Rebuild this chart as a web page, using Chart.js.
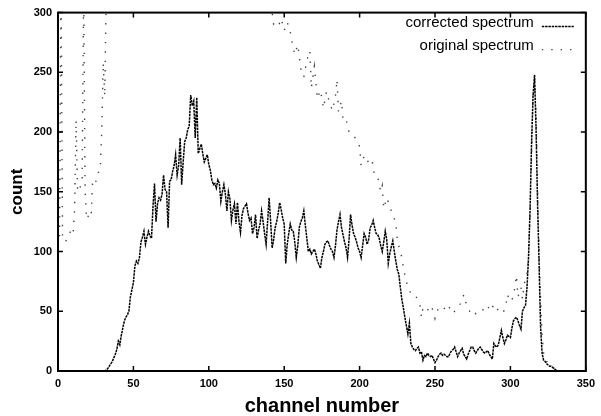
<!DOCTYPE html>
<html>
<head>
<meta charset="utf-8">
<script src="https://cdn.jsdelivr.net/npm/chart.js@4"></script>
<style>
  html, body { margin: 0; padding: 0; background: #fff; }
  #wrap { width: 601px; height: 416px; }
</style>
</head>
<body>
<div id="wrap"><canvas id="spec"></canvas></div>
<script>
// corrected spectrum (channel, count)
const corrChannels = [0,
  30,31,32,33,34,35,36,37,38,39,40,41,42,43,44,45,46,47,48,49,
  50,51,52,53,54,55,56,57,58,59,60,61,62,63,64,65,66,67,68,69,
  70,71,72,73,74,75,76,77,78,79,80,81,82,83,84,85,86,87,88,89,
  90,91,92,93,94,95,96,97,98,99,100,101,102,103,104,105,106,107,108,109,
  110,111,112,113,114,115,116,117,118,119,120,121,122,123,124,125,126,127,128,129,
  130,131,132,133,134,135,136,137,138,139,140,141,142,143,144,145,146,147,148,149,
  150,151,152,153,154,155,156,157,158,159,160,161,162,163,164,165,166,167,168,169,
  170,171,172,173,174,175,176,177,178,179,180,181,182,183,184,185,186,187,188,189,
  190,191,192,193,194,195,196,197,198,199,200,201,202,203,204,205,206,207,208,209,
  210,211,212,213,214,215,216,217,218,219,220,221,222,223,224,225,226,227,228,229,
  230,231,232,233,234,235,236,237,238,239,240,241,242,243,244,245,246,247,248,249,
  250,251,252,253,254,255,256,257,258,259,260,261,262,263,264,265,266,267,268,269,
  270,271,272,273,274,275,276,277,278,279,280,281,282,283,284,285,286,287,288,289,
  290,291,292,293,294,295,296,297,298,299,300,301,302,303,304,305,306,307,308,309,
  310,311,312,313,314,315,316,317,318,319,320,321,322,323,324,325,326,327,328,329,
  330,331,335];
const corrCounts = [0,
  0,0,1,2,4,6,8,11,14,18,25,22,30,36,42,45,47,50,62,68,
  74,88,92,90,95,108,112,117,106,112,117,113,111,138,157,125,140,145,143,148,
  164,152,150,120,159,160,167,172,181,164,172,195,156,175,192,195,202,205,231,222,
  226,195,229,182,186,190,182,175,178,181,173,168,160,156,157,153,160,157,142,150,
  156,148,134,150,144,126,135,140,123,141,125,116,130,136,138,140,132,126,128,115,
  120,131,111,118,123,134,125,115,106,125,145,125,103,110,120,125,132,141,135,128,
  123,90,106,115,123,118,117,108,95,105,120,125,128,134,122,111,100,102,98,100,
  102,98,92,89,86,95,100,106,108,109,105,102,100,95,105,118,125,131,120,114,
  108,103,95,110,131,122,115,112,108,103,100,95,105,115,112,106,110,120,122,126,
  120,115,114,111,105,100,108,117,110,90,98,104,109,100,92,85,81,70,60,53,
  45,38,31,40,23,20,18,17,19,20,15,16,9,13,12,15,13,12,13,10,
  7,9,12,14,15,13,14,13,12,12,15,17,18,20,16,12,15,17,19,14,
  12,10,14,17,20,20,17,15,17,19,20,18,16,15,16,17,14,12,10,23,
  21,20,22,28,34,28,23,26,30,29,28,36,42,44,45,42,38,35,50,53,
  55,70,95,134,190,230,248,203,140,90,37,15,9,8,6,5,4,4,3,2,
  1,0,0];

// original spectrum (channel, count) - values above 300 run off the top
const origChannels = [0,1,2,3,5,7,9,10,11,12,13,14,16,17,18,19,21,22,23,25,26,28,29,30,31,32,
  35,40,50,60,80,90,100,110,120,130,138,
  142,143,146,148,150,152,154,156,157,159,161,163,165,167,168,170,172,174,176,178,
  180,182,184,185,186,188,189,191,193,196,198,200,201,203,205,208,210,212,214,215,
  216,218,220,222,224,225,227,228,229,231,232,234,236,237,239,240,241,242,244,246,
  247,249,250,252,254,256,258,260,262,264,266,268,269,271,273,275,277,279,281,283,
  285,287,289,291,293,295,297,298,300,302,304,305,307,308,309,311,312,313,314,315,
  316,317,318,319,320,321,322,324,326,328,330,332];
const origCounts = [105,110,330,112,108,114,118,115,135,210,150,152,158,320,150,127,132,130,160,158,165,168,200,258,230,320,
  360,450,520,600,700,720,650,560,480,400,340,
  300,290,288,295,285,292,284,270,265,273,253,246,260,268,237,255,228,235,220,234,
  225,218,230,244,217,226,210,211,200,198,192,188,172,180,175,178,163,162,150,155,
  136,145,138,130,125,109,100,95,86,75,70,65,65,63,59,55,45,53,50,52,
  55,50,44,52,50,52,56,52,48,52,55,58,64,55,50,52,48,50,52,50,
  54,50,56,52,50,48,55,64,58,62,80,62,70,60,72,82,95,130,180,230,
  245,215,150,100,60,30,15,8,5,3,1,0];

const xMin = 0, xMax = 350, xStep = 50;
const yMin = 0, yMax = 300, yStep = 50;

const toXY = (xs, ys) => xs.map((x, i) => ({ x: x, y: ys[i] }));

// gnuplot style frame, inward ticks on all sides and a legend in the top right corner
const framePlugin = {
  id: "frame",
  afterDatasetsDraw(chart) {
    const ctx = chart.ctx;
    const a = chart.chartArea;
    const xs = chart.scales.x, ys = chart.scales.y;
    ctx.save();
    ctx.strokeStyle = "#000";
    ctx.lineWidth = 2;
    ctx.strokeRect(a.left, a.top, a.right - a.left, a.bottom - a.top);
    ctx.lineWidth = 1.5;
    ctx.beginPath();
    xs.ticks.forEach((t) => {
      const px = xs.getPixelForValue(t.value);
      ctx.moveTo(px, a.bottom); ctx.lineTo(px, a.bottom - 5);
      ctx.moveTo(px, a.top); ctx.lineTo(px, a.top + 5);
    });
    ys.ticks.forEach((t) => {
      const py = ys.getPixelForValue(t.value);
      ctx.moveTo(a.left, py); ctx.lineTo(a.left + 5, py);
      ctx.moveTo(a.right, py); ctx.lineTo(a.right - 5, py);
    });
    ctx.stroke();

    // legend
    ctx.font = "15px 'Liberation Sans', Arial, sans-serif";
    ctx.textAlign = "right";
    ctx.textBaseline = "middle";
    ctx.fillStyle = "#000";
    chart.data.datasets.forEach((ds, i) => {
      const y = a.top + 10 + i * 23;
      ctx.fillText(ds.label, a.right - 52, y);
      ctx.strokeStyle = ds.borderColor;
      ctx.lineWidth = ds.borderWidth;
      ctx.setLineDash(ds.borderDash || []);
      ctx.beginPath();
      ctx.moveTo(a.right - 44, y + 4);
      ctx.lineTo(a.right - 12, y + 4);
      ctx.stroke();
    });
    ctx.restore();
  }
};

new Chart(document.getElementById("spec"), {
  type: "line",
  data: {
    datasets: [
      {
        label: "corrected spectrum",
        data: toXY(corrChannels, corrCounts),
        borderColor: "#000",
        borderWidth: 1.5,
        borderDash: [2.5, 0.8],
        pointRadius: 0,
        tension: 0
      },
      {
        label: "original spectrum",
        data: toXY(origChannels, origCounts),
        borderColor: "#444",
        borderWidth: 1.4,
        borderDash: [1.4, 8],
        pointRadius: 0,
        tension: 0
      }
    ]
  },
  options: {
    responsive: true,
    maintainAspectRatio: false,
    animation: false,
    layout: { padding: { top: 10, right: 9, left: 0, bottom: 0 } },
    plugins: { legend: { display: false }, tooltip: { enabled: false } },
    scales: {
      x: {
        type: "linear",
        min: xMin, max: xMax,
        grid: { display: false, drawTicks: false },
        border: { display: false },
        ticks: {
          stepSize: xStep,
          padding: 6,
          color: "#000",
          font: { family: "'Liberation Sans', Arial, sans-serif", size: 11, weight: "bold" }
        },
        title: {
          display: true,
          text: "channel number",
          color: "#000",
          padding: { top: 0, bottom: 0 },
          font: { family: "'Liberation Sans', Arial, sans-serif", size: 20, weight: "bold", lineHeight: 1 }
        },
        afterFit: (scale) => { scale.height = 45; }
      },
      y: {
        min: yMin, max: yMax,
        grid: { display: false, drawTicks: false },
        border: { display: false },
        ticks: {
          stepSize: yStep,
          padding: 6,
          color: "#000",
          font: { family: "'Liberation Sans', Arial, sans-serif", size: 11, weight: "bold" }
        },
        title: {
          display: true,
          text: "count",
          color: "#000",
          padding: { top: 9, bottom: 0 },
          font: { family: "'Liberation Sans', Arial, sans-serif", size: 17, weight: "bold", lineHeight: 1 }
        },
        afterFit: (scale) => { scale.width = 58; }
      }
    }
  },
  plugins: [framePlugin]
});
</script>
</body>
</html>
